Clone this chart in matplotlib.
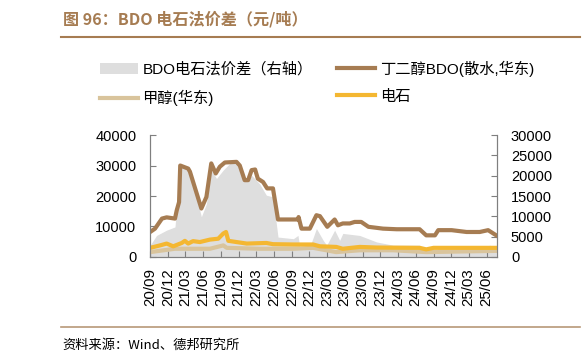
import matplotlib
matplotlib.use("Agg")
import matplotlib.pyplot as plt
import matplotlib.dates as mdates
import pandas as pd

plt.rcParams['font.family'] = ['Liberation Sans', 'Noto Sans CJK SC', 'DejaVu Sans']

# BDO 电石法价差（右轴）
spread_dates = ['2020-09-01', '2020-10-04', '2020-11-25', '2021-01-07', '2021-02-03', '2021-03-16',
                '2021-04-02', '2021-05-23', '2021-06-18', '2021-07-13', '2021-08-09', '2021-09-13',
                '2021-10-16', '2021-11-20', '2021-12-16', '2022-01-12', '2022-02-06', '2022-03-19',
                '2022-04-23', '2022-05-27', '2022-06-22', '2022-09-09', '2022-10-03', '2022-10-12',
                '2022-12-03', '2023-01-06', '2023-02-10', '2023-02-28', '2023-04-10', '2023-05-06',
                '2023-05-22', '2023-08-17', '2023-11-12', '2024-02-06', '2024-06-21', '2024-07-25',
                '2024-09-15', '2024-10-03', '2025-01-15', '2025-04-27', '2025-06-18', '2025-07-21']
spread = [2900, 5300, 6600, 7400, 22600, 21400,
          19700, 9900, 13100, 21400, 19300, 21400,
          23000, 23400, 20100, 18500, 20100, 18000,
          15200, 14800, 4900, 4500, 5300, 2500,
          2500, 7000, 4100, 2900, 6600, 4100,
          5800, 5300, 3700, 2900, 2900, 1600,
          1600, 2500, 2100, 2100, 2900, 1600]

# 丁二醇BDO(散水,华东)
bdo_dates = ['2020-09-01', '2020-09-26', '2020-11-01', '2020-11-25', '2021-01-07', '2021-01-16',
             '2021-01-28', '2021-02-03', '2021-03-16', '2021-03-25', '2021-05-23', '2021-06-18',
             '2021-07-13', '2021-08-05', '2021-08-26', '2021-09-21', '2021-11-20', '2021-12-07',
             '2022-01-01', '2022-01-19', '2022-02-06', '2022-02-24', '2022-03-10', '2022-04-06',
             '2022-04-27', '2022-05-27', '2022-06-22', '2022-10-03', '2022-10-06', '2022-10-21',
             '2022-12-03', '2023-01-06', '2023-01-24', '2023-03-03', '2023-04-10', '2023-04-27',
             '2023-05-22', '2023-06-27', '2023-07-22', '2023-08-25', '2023-10-01', '2023-12-15',
             '2024-02-24', '2024-06-21', '2024-07-25', '2024-09-08', '2024-09-25', '2024-12-03',
             '2025-02-18', '2025-04-27', '2025-06-09', '2025-07-21']
bdo = [8200, 9300, 12600, 13000, 12600, 15300,
       18000, 30000, 29000, 28000, 15900, 19700,
       30700, 27400, 29600, 31000, 31200, 30000,
       25200, 25200, 28500, 28700, 25700, 24600,
       22500, 22500, 12300, 12300, 13100, 9300,
       9300, 13700, 13400, 9900, 12300, 10400,
       11000, 11000, 11500, 11500, 9900, 9300,
       9100, 9100, 7100, 7100, 8800, 8800,
       8200, 8200, 8800, 7100]

# 甲醇(华东)
methanol_dates = ['2020-09-01', '2021-01-07', '2021-07-06', '2021-09-13', '2021-10-01', '2022-03-19',
                  '2022-09-09', '2022-12-20', '2023-04-18', '2023-08-17', '2024-02-06', '2024-07-25',
                  '2025-07-21']
methanol = [1600, 2700, 2700, 3800, 3000, 2700,
            2700, 3000, 1600, 2200, 2200, 1600,
            2000]

# 电石
carbide_dates = ['2020-09-01', '2020-10-22', '2020-11-25', '2020-12-29', '2021-02-11', '2021-02-27',
                 '2021-03-16', '2021-04-10', '2021-05-15', '2021-07-06', '2021-08-18', '2021-09-13',
                 '2021-09-27', '2021-10-09', '2021-11-20', '2022-01-12', '2022-04-23', '2022-05-27',
                 '2022-09-09', '2022-12-20', '2023-01-24', '2023-04-18', '2023-05-22', '2023-08-17',
                 '2023-11-12', '2024-06-21', '2024-07-25', '2024-09-01', '2025-07-21']
carbide = [3000, 3800, 4400, 3500, 4600, 5300,
           4400, 5200, 4900, 5700, 6000, 7700,
           8200, 5300, 4900, 4400, 4600, 4200,
           4100, 4100, 3500, 3300, 2700, 3300,
           3100, 3000, 2500, 3000, 3000]

brown = '#A67C52'
axis_col = '#7F7F7F'

fig = plt.figure(figsize=(5.82, 3.64), dpi=100)
ax = fig.add_axes([0.258, 0.294, 0.596, 0.335])
ax2 = ax.twinx()

ax2.fill_between(pd.to_datetime(spread_dates), spread, 0, color='#DEDEDE', lw=0,
                 label='BDO电石法价差（右轴）')
ax.set_zorder(ax2.get_zorder() + 1)
ax.patch.set_visible(False)

l_bdo, = ax.plot(pd.to_datetime(bdo_dates), bdo, color=brown, lw=3, label='丁二醇BDO(散水,华东)')
l_meth, = ax.plot(pd.to_datetime(methanol_dates), methanol, color='#D9C49C', lw=3, label='甲醇(华东)')
l_carb, = ax.plot(pd.to_datetime(carbide_dates), carbide, color='#F4B731', lw=3, label='电石')

ax.set_ylim(0, 40000)
ax2.set_ylim(0, 30000)
ax.set_yticks(range(0, 40001, 10000))
ax2.set_yticks(range(0, 30001, 5000))
ax.set_xlim(pd.Timestamp('2020-09-01'), pd.Timestamp('2025-07-25'))
ax.xaxis.set_major_locator(mdates.MonthLocator(bymonth=[3, 6, 9, 12]))
ax.xaxis.set_major_formatter(mdates.DateFormatter('%y/%m'))
for lab in ax.get_xticklabels():
    lab.set_rotation(90)

for a in (ax, ax2):
    a.spines['top'].set_visible(False)
    for s in ('left', 'right', 'bottom'):
        a.spines[s].set_color(axis_col)
    a.tick_params(direction='in', length=4, color=axis_col, labelsize=10.5)
ax.tick_params(axis='x', labelsize=10.8, pad=8)
ax2.tick_params(axis='y', pad=10)
ax.tick_params(axis='y', pad=10)

handles = [ax2.collections[0], l_meth, l_bdo, l_carb]
fig.legend(handles=handles, labels=[h.get_label() for h in handles], ncol=2,
           loc='upper left', bbox_to_anchor=(0.171, 0.834), frameon=False,
           fontsize=11, handlelength=2.5, handletextpad=0.3, columnspacing=1.6,
           labelspacing=0.85, borderaxespad=0, borderpad=0)

fig.text(0.108, 0.948, '图 96：BDO 电石法价差（元/吨）', color=brown, fontsize=11.6,
         fontweight='bold', va='center', family=['Noto Sans CJK SC', 'DejaVu Sans'])
fig.add_artist(plt.Line2D([0.105, 0.997], [0.898, 0.898], color=brown, lw=1.5))
fig.add_artist(plt.Line2D([0.105, 0.997], [0.102, 0.102], color='#B89878', lw=1.2))
fig.text(0.108, 0.052, '资料来源：Wind、德邦研究所', fontsize=9.5, va='center',
         family=['Noto Sans CJK SC', 'DejaVu Sans'])

fig.savefig('out.png', dpi=100)
